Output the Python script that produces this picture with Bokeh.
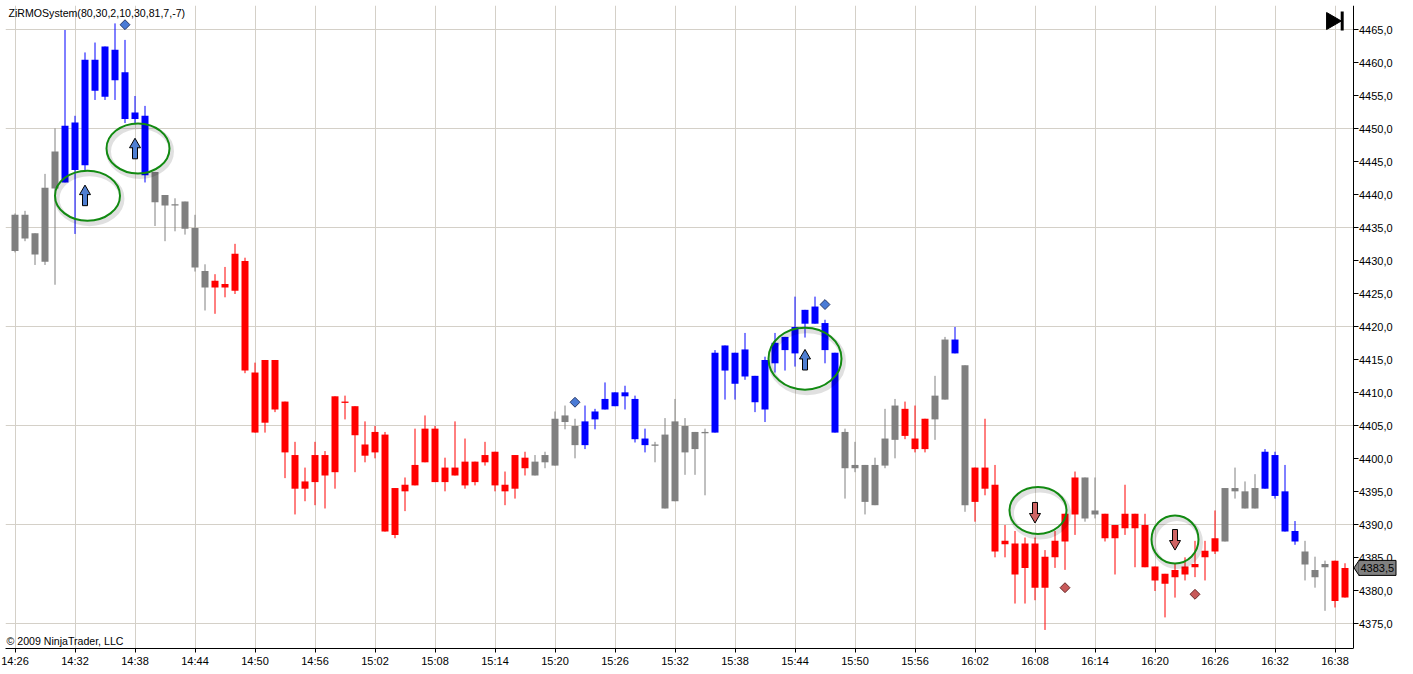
import math
from bokeh.plotting import figure
from bokeh.models import FixedTicker, Label, ColumnDataSource, Range1d, BoxAnnotation
from bokeh.core.properties import value
from bokeh.embed import file_html
from bokeh.resources import INLINE

# ---------------- data ----------------
x_tick_pos = [0, 6, 12, 18, 24, 30, 36, 42, 48, 54, 60, 66, 72, 78, 84, 90, 96, 102, 108, 114, 120, 126, 132]
x_tick_labels = ["14:26", "14:32", "14:38", "14:44", "14:50", "14:56", "15:02", "15:08", "15:14", "15:20",
                 "15:26", "15:32", "15:38", "15:44", "15:50", "15:56", "16:02", "16:08", "16:14", "16:20",
                 "16:26", "16:32", "16:38"]
y_tick_pos = [4375, 4380, 4385, 4390, 4395, 4400, 4405, 4410, 4415, 4420, 4425, 4430, 4435, 4440, 4445,
              4450, 4455, 4460, 4465]
y_tick_labels = ["4375,0", "4380,0", "4385,0", "4390,0", "4395,0", "4400,0", "4405,0", "4410,0", "4415,0",
                 "4420,0", "4425,0", "4430,0", "4435,0", "4440,0", "4445,0", "4450,0", "4455,0", "4460,0",
                 "4465,0"]
y_grid_pos = [4375, 4390, 4405, 4420, 4435, 4450, 4465]

# one bar per minute from 14:26 (index 0) to 16:39 (index 133)
body_top = [4437.0, 4437.0, 4434.2, 4441.1, 4446.6, 4450.5, 4451.0, 4460.5, 4460.5, 4462.5,
            4462.0, 4458.6, 4452.5, 4452.0, 4443.5, 4440.0, 4438.6, 4439.0, 4435.0, 4428.5,
            4427.0, 4426.5, 4431.1, 4430.0, 4413.1, 4415.0, 4415.0, 4408.7, 4400.6, 4396.6,
            4400.6, 4400.6, 4409.5, 4408.7, 4408.0, 4402.2, 4404.1, 4403.7, 4395.6, 4396.1,
            4399.1, 4404.6, 4404.6, 4398.7, 4398.7, 4399.6, 4399.6, 4400.6, 4401.1, 4396.1,
            4400.6, 4400.2, 4399.6, 4400.6, 4406.1, 4406.6, 4405.0, 4405.7, 4407.2, 4409.1,
            4410.1, 4410.1, 4409.1, 4403.1, 4402.2, 4403.7, 4405.7, 4405.0, 4404.1, 4404.1,
            4416.1, 4417.2, 4416.1, 4416.6, 4412.6, 4415.0, 4417.6, 4418.5, 4420.0, 4422.6,
            4423.1, 4420.6, 4416.1, 4404.1, 4399.1, 4399.1, 4399.1, 4403.1, 4408.1, 4407.6,
            4403.1, 4406.1, 4409.6, 4418.1, 4418.1, 4414.2, 4398.7, 4398.7, 4396.1, 4387.6,
            4387.2, 4387.2, 4387.2, 4385.2, 4387.6, 4391.7, 4397.2, 4397.2, 4392.2, 4391.7,
            4390.0, 4391.7, 4391.7, 4390.0, 4383.7, 4382.6, 4383.2, 4383.7, 4384.1, 4386.1,
            4388.0, 4395.6, 4395.6, 4395.1, 4395.6, 4401.1, 4400.6, 4395.1, 4389.1, 4386.0,
            4383.2, 4384.1, 4384.6, 4383.5]
body_bot = [4431.5, 4433.4, 4431.0, 4429.9, 4441.0, 4441.9, 4443.8, 4444.5, 4455.8, 4454.9,
            4457.4, 4451.5, 4451.5, 4443.0, 4438.9, 4438.4, 4438.4, 4434.9, 4429.0, 4426.0,
            4426.0, 4426.0, 4425.5, 4413.4, 4404.0, 4405.5, 4407.5, 4401.0, 4395.5, 4395.5,
            4396.5, 4397.5, 4398.0, 4408.5, 4403.6, 4400.5, 4401.0, 4389.0, 4388.5, 4395.1,
            4396.0, 4399.5, 4396.5, 4396.5, 4397.5, 4396.0, 4396.5, 4399.5, 4396.0, 4395.1,
            4395.5, 4398.6, 4397.5, 4399.5, 4399.0, 4405.6, 4402.1, 4402.1, 4406.0, 4407.5,
            4408.0, 4409.5, 4403.0, 4402.1, 4402.0, 4392.5, 4393.6, 4401.0, 4401.5, 4403.9,
            4404.0, 4413.4, 4411.4, 4412.5, 4408.6, 4407.5, 4414.5, 4416.5, 4416.0, 4420.5,
            4420.5, 4416.5, 4404.0, 4398.6, 4398.6, 4393.5, 4393.0, 4399.0, 4402.9, 4403.5,
            4401.5, 4401.5, 4406.0, 4409.0, 4416.0, 4393.0, 4393.5, 4395.5, 4386.0, 4387.1,
            4382.5, 4383.5, 4380.5, 4380.5, 4385.1, 4387.5, 4391.6, 4391.0, 4391.6, 4388.0,
            4388.0, 4389.5, 4389.5, 4383.6, 4381.6, 4381.1, 4382.1, 4382.5, 4383.6, 4385.1,
            4386.0, 4387.5, 4395.1, 4392.5, 4392.5, 4395.5, 4394.4, 4389.0, 4387.5, 4384.0,
            4382.1, 4383.6, 4378.5, 4379.0]
high = [4437.2, 4437.6, 4434.2, 4443.2, 4450.1, 4465.0, 4452.0, 4461.6, 4463.1, 4462.5,
        4466.0, 4463.5, 4455.0, 4453.5, 4443.5, 4440.0, 4439.5, 4439.0, 4437.0, 4429.5,
        4428.0, 4429.1, 4432.6, 4430.5, 4414.6, 4415.0, 4415.0, 4408.7, 4402.6, 4398.7,
        4402.6, 4401.2, 4409.5, 4409.6, 4408.0, 4405.7, 4405.0, 4404.1, 4395.6, 4397.2,
        4404.6, 4406.6, 4405.0, 4400.2, 4405.7, 4403.1, 4399.6, 4402.6, 4401.1, 4398.1,
        4400.6, 4401.1, 4400.6, 4401.1, 4407.2, 4408.1, 4406.1, 4408.1, 4407.6, 4411.6,
        4410.1, 4411.1, 4409.6, 4404.6, 4402.6, 4406.2, 4409.1, 4406.2, 4404.1, 4404.6,
        4416.5, 4417.2, 4416.1, 4419.1, 4412.6, 4415.5, 4419.1, 4418.5, 4424.6, 4422.6,
        4424.6, 4421.1, 4416.1, 4404.6, 4402.6, 4399.1, 4400.2, 4407.6, 4409.1, 4408.7,
        4408.1, 4406.1, 4412.6, 4418.5, 4420.0, 4414.2, 4398.7, 4406.1, 4399.1, 4390.0,
        4389.1, 4388.1, 4388.1, 4386.2, 4389.1, 4391.7, 4398.1, 4397.2, 4397.2, 4391.7,
        4390.0, 4396.1, 4391.7, 4391.7, 4383.7, 4382.6, 4384.2, 4385.1, 4387.6, 4387.6,
        4392.2, 4395.6, 4398.7, 4396.6, 4397.7, 4401.5, 4401.1, 4399.1, 4390.6, 4387.6,
        4385.2, 4384.6, 4384.6, 4384.2]
low = [4431.3, 4433.0, 4429.4, 4429.4, 4426.4, 4441.9, 4434.1, 4443.7, 4454.4, 4454.4,
       4454.4, 4450.9, 4450.8, 4441.9, 4435.3, 4433.0, 4434.5, 4434.0, 4428.4, 4422.5,
       4422.0, 4424.5, 4425.0, 4413.0, 4404.0, 4404.0, 4407.1, 4397.1, 4391.6, 4393.6,
       4393.0, 4392.5, 4395.5, 4406.0, 4398.0, 4399.5, 4400.1, 4389.0, 4388.0, 4392.1,
       4396.0, 4399.5, 4396.5, 4395.1, 4397.5, 4395.5, 4396.0, 4399.0, 4395.1, 4393.0,
       4394.0, 4397.5, 4397.5, 4398.6, 4399.0, 4404.5, 4400.1, 4401.5, 4404.5, 4407.5,
       4408.0, 4407.5, 4402.5, 4401.0, 4399.5, 4392.5, 4393.6, 4397.6, 4397.6, 4394.5,
       4404.0, 4409.0, 4409.0, 4412.0, 4407.1, 4405.6, 4413.1, 4413.4, 4414.0, 4418.4,
       4420.5, 4414.5, 4404.0, 4394.0, 4398.0, 4391.6, 4393.0, 4398.6, 4400.1, 4403.0,
       4401.0, 4401.0, 4402.9, 4409.0, 4416.0, 4392.0, 4390.5, 4394.5, 4385.1, 4385.1,
       4378.1, 4378.1, 4378.6, 4374.1, 4383.5, 4383.2, 4388.5, 4390.5, 4391.0, 4387.5,
       4382.5, 4388.5, 4383.6, 4383.6, 4380.0, 4376.0, 4379.0, 4381.6, 4382.1, 4381.6,
       4385.6, 4387.5, 4394.0, 4392.5, 4392.5, 4395.5, 4394.0, 4389.0, 4387.0, 4381.6,
       4380.5, 4377.0, 4377.5, 4379.0]
bar_state = (["neutral"] * 5 + ["up"] * 9 + ["neutral"] * 6 + ["down"] * 32 + ["neutral"] * 5
             + ["up"] * 7 + ["neutral"] * 6 + ["up"] * 13 + ["neutral"] * 6 + ["down"] * 3
             + ["neutral"] * 2 + ["up"] + ["neutral"] + ["down"] * 11 + ["neutral"] * 2
             + ["down"] * 12 + ["neutral"] * 4 + ["up"] * 4 + ["neutral"] * 3 + ["down"] * 2)

# signal markers (bar index, price)
diamond_up_bar = [11, 56, 81]
diamond_up_val = [4465.8, 4408.6, 4423.4]
diamond_dn_bar = [105, 118]
diamond_dn_val = [4380.5, 4379.5]
arrow_up_bar = [7, 12, 79]
arrow_up_val = [4439.9, 4447.0, 4415.0]
arrow_dn_bar = [102, 116]
arrow_dn_val = [4391.9, 4387.8]
ring_bar = [7.25, 12.3, 79.0, 102.3, 116.0]
ring_val = [4439.9, 4447.05, 4415.2, 4392.2, 4387.8]
ring_w = [65, 63, 73, 57, 47]
ring_h = [50, 50, 62, 47, 48]
last_price = 4383.5
last_price_label = "4383,5"

# ---------------- styling ----------------
state_colors = {"neutral": "#808080", "up": "#0000FF", "down": "#FF0000"}
GRID = "#D4D0C8"
FONT = "Liberation Sans"
PXX = 10.0   # px per bar
PXY = 6.6    # px per point
FW, FH = 1408, 643

x0 = -0.95
x1 = x0 + FW / PXX
x_axis_at = x0 + 1347.5 / PXX     # price axis position (right end of the price pane)
y1 = 4468.712
y0 = y1 - FH / PXY

p = figure(frame_width=FW, frame_height=FH, output_backend="svg", toolbar_location=None,
           x_range=Range1d(x0, x1), y_range=Range1d(y0, y1), y_axis_location="right",
           min_border_left=5, min_border_top=5, min_border_bottom=0, min_border_right=0,
           background_fill_color="white", border_fill_color="white")
p.outline_line_color = None

xs = list(range(len(body_top)))
cols = [state_colors[s] for s in bar_state]
src = ColumnDataSource(dict(x=xs, top=body_top, bot=body_bot, high=high, low=low, col=cols))

p.segment(x0="x", y0="low", x1="x", y1="high", source=src, line_color="col", line_width=1)
p.vbar(x="x", width=0.7, top="top", bottom="bot", source=src, fill_color="col", line_color=None)

# diamonds
p.scatter(diamond_up_bar, diamond_up_val, marker="square", angle=math.pi / 4, size=7,
          fill_color="#4A7BD6", line_color="#2A3A6A", line_width=1)
p.scatter(diamond_dn_bar, diamond_dn_val, marker="square", angle=math.pi / 4, size=7,
          fill_color="#C85A5A", line_color="#6A2A2A", line_width=1)

# rings (shadow + green)
p.ellipse([b + 2 / PXX for b in ring_bar], [v - 3 / PXY for v in ring_val], width=ring_w, height=ring_h,
          width_units="screen", height_units="screen", fill_color=None, line_color="black",
          line_alpha=0.12, line_width=5)
p.ellipse(ring_bar, ring_val, width=ring_w, height=ring_h, width_units="screen", height_units="screen",
          fill_color=None, line_color="#128A12", line_width=2)

# arrows
def draw_arrows(bars, vals, up, fill):
    sgn = 1 if up else -1
    head_y = [v + sgn * 4.2 / PXY for v in vals]
    shaft_y = [v - sgn * 4.5 / PXY for v in vals]
    join_y = [v + sgn * 1.0 / PXY for v in vals]
    p.rect(bars, shaft_y, width=5, height=11, width_units="screen", height_units="screen",
           fill_color=fill, line_color="black", line_width=1)
    p.scatter(bars, head_y, marker="triangle" if up else "inverted_triangle", size=11,
              fill_color=fill, line_color="black", line_width=1)
    p.rect(bars, join_y, width=4, height=3, width_units="screen", height_units="screen",
           fill_color=fill, line_color=None)

draw_arrows(arrow_up_bar, arrow_up_val, True, "#4F7FD2")
draw_arrows(arrow_dn_bar, arrow_dn_val, False, "#CF6464")

# blank strip right of the price pane (behind axis labels)
p.add_layout(BoxAnnotation(left=x_axis_at, fill_color="white", fill_alpha=1.0, line_color=None,
                           level="underlay"))

# axes
p.xaxis.ticker = FixedTicker(ticks=x_tick_pos)
p.xaxis.major_label_overrides = {t: l for t, l in zip(x_tick_pos, x_tick_labels)}
p.xaxis.bounds = (x0, x_axis_at)
p.yaxis.ticker = FixedTicker(ticks=y_tick_pos)
p.yaxis.major_label_overrides = {t: l for t, l in zip(y_tick_pos, y_tick_labels)}
p.yaxis.fixed_location = x_axis_at
for ax in (p.xaxis[0], p.yaxis[0]):
    ax.axis_line_color = "black"
    ax.axis_line_width = 1
    ax.major_tick_line_color = "black"
    ax.major_tick_in = 0
    ax.minor_tick_line_color = None
    ax.major_label_text_font = FONT
    ax.major_label_text_font_size = "11px"
    ax.major_label_text_color = "black"
p.xaxis.major_tick_out = 4
p.xaxis.major_label_standoff = 2
p.yaxis.major_tick_out = 5
p.yaxis.major_label_standoff = 1

p.xgrid.ticker = FixedTicker(ticks=x_tick_pos)
p.ygrid.ticker = FixedTicker(ticks=y_grid_pos)
p.xgrid.grid_line_color = GRID
p.ygrid.grid_line_color = GRID
p.xgrid.grid_line_width = 1
p.ygrid.grid_line_width = 1

# texts
p.add_layout(Label(x=x0, y=y1, x_offset=3, y_offset=-1, text="ZiRMOSystem(80,30,2,10,30,81,7,-7)",
                   text_font=FONT, text_font_size="10.6px", text_baseline="top", text_color="black"))
p.add_layout(Label(x=x0, y=y0, x_offset=1, y_offset=2, text="\u00a9 2009 NinjaTrader, LLC",
                   text_font=FONT, text_font_size="10.6px", text_baseline="bottom", text_color="black"))

# play-to-end icon
p.scatter([x_axis_at - 2.15], [y1 - 15.5 / PXY], marker="triangle", angle=-math.pi / 2, size=17,
          fill_color="black", line_color="black")
p.rect([x_axis_at - 1.08], [y1 - 15.5 / PXY], width=3, height=19, width_units="screen",
       height_units="screen", fill_color="black", line_color=None)

# last price tag on the price axis
TAG_GRAY = "#808080"
p.scatter([x_axis_at + 6.0 / PXX], [last_price], marker="diamond", size=15, fill_color=TAG_GRAY,
          line_color="black", line_width=1, level="overlay")
p.rect([x_axis_at + 24.5 / PXX], [last_price], width=37, height=15, width_units="screen",
       height_units="screen", fill_color=TAG_GRAY, line_color="black", line_width=1, level="overlay")
p.rect([x_axis_at + 7.0 / PXX], [last_price], width=3, height=13, width_units="screen",
       height_units="screen", fill_color=TAG_GRAY, line_color=None, level="overlay")
p.text([x_axis_at + 7.5 / PXX], [last_price], text=[last_price_label], text_font=value(FONT),
       text_font_size="11px", text_baseline="middle", text_align="left", text_color="black",
       level="overlay")

open("out.html", "w").write(file_html(p, INLINE))
